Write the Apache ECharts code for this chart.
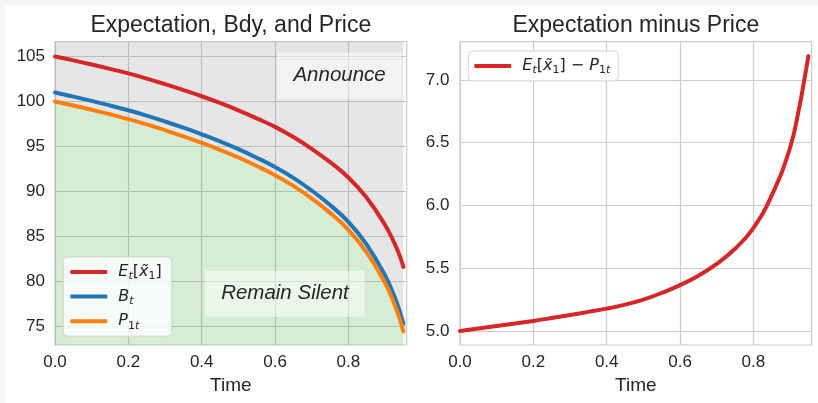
<!DOCTYPE html>
<html>
<head>
<meta charset="utf-8">
<script src="https://cdn.jsdelivr.net/npm/echarts@6/dist/echarts.min.js"></script>
<style>
  html, body { margin: 0; padding: 0; width: 818px; height: 403px; overflow: hidden; background: #f6f6f6; }
  #chart { position: absolute; left: 5px; top: 5px; width: 813px; height: 398px; background: #ffffff; }
</style>
</head>
<body>
<div id="chart"></div>
<script>
// Time grid shared by every curve
const times = [0, 0.05, 0.1, 0.15, 0.2, 0.25, 0.3, 0.35, 0.4, 0.45, 0.5, 0.55, 0.6, 0.65, 0.7, 0.75, 0.8, 0.85, 0.9, 0.925, 0.94, 0.95];
// E_t[x~_1]
const expectation = [105.0, 104.57, 104.11, 103.63, 103.12, 102.55, 101.93, 101.27, 100.58, 99.83, 99.01, 98.12, 97.17, 96.04, 94.73, 93.25, 91.54, 89.28, 86.26, 84.28, 82.82, 81.59];
// B_t, the disclosure boundary
const boundary = [101.0, 100.54, 100.06, 99.55, 99.02, 98.42, 97.77, 97.08, 96.35, 95.56, 94.69, 93.74, 92.71, 91.5, 90.09, 88.48, 86.59, 84.06, 80.65, 78.35, 76.65, 75.25];
// P_1t, the price
const price = [100.0, 99.55, 99.07, 98.57, 98.04, 97.45, 96.8, 96.12, 95.4, 94.62, 93.76, 92.82, 91.8, 90.6, 89.2, 87.6, 85.72, 83.2, 79.8, 77.5, 75.8, 74.4];
// E_t[x~_1] - P_1t
const spread = [5.0, 5.02, 5.04, 5.06, 5.08, 5.103, 5.127, 5.152, 5.178, 5.21, 5.25, 5.303, 5.365, 5.44, 5.535, 5.655, 5.82, 6.08, 6.46, 6.78, 7.02, 7.19];

// Tick labels
const xTicks = [0, 0.2, 0.4, 0.6, 0.8];
const yTicksLeft = [75, 80, 85, 90, 95, 100, 105];
const yTicksRight = [5.0, 5.5, 6.0, 6.5, 7.0];

// Axis ranges
const X_MAX = 0.959;
const LEFT_RANGE = [72.9, 106.65];
const RIGHT_RANGE = [4.888, 7.305];

// Region labels, placed in data coordinates of the left panel
const announceAt = [0.776, 102.86];
const silentAt = [0.627, 78.6];

const FONT = '"Liberation Sans", Arial, sans-serif';
const MATH = '"DejaVu Sans", sans-serif';
const INK = '#262626';
const GRID_C = '#cccccc';
const RED = '#d62728', BLUE = '#1f77b4', ORANGE = '#ff7f0e';

const pts = ys => times.map((t, i) => [t, ys[i]]);

const chart = echarts.init(document.getElementById('chart'), null, { renderer: 'canvas' });

const SMOOTH = 0.45;

const lineSeries = (name, ys, color, idx) => ({
  name, type: 'line', xAxisIndex: idx, yAxisIndex: idx, data: pts(ys),
  symbol: 'none', showSymbol: false, smooth: SMOOTH,
  lineStyle: { color, width: 4, cap: 'round', join: 'round' },
  itemStyle: { color }, z: 5, silent: true
});

const fillSeries = (origin, color) => ({
  name: 'fill-' + origin, type: 'line', xAxisIndex: 0, yAxisIndex: 0, data: pts(price),
  symbol: 'none', showSymbol: false, smooth: SMOOTH,
  lineStyle: { width: 0, opacity: 0 }, areaStyle: { origin, color, opacity: 1 },
  z: 1, silent: true
});

const rich = {
  sp: { width: 6 },
  m: { fontFamily: MATH, fontStyle: 'italic', fontSize: 16, color: INK, lineHeight: 20 },
  r: { fontFamily: MATH, fontSize: 16, color: INK, lineHeight: 20 },
  s: { fontFamily: MATH, fontStyle: 'italic', fontSize: 11, color: INK, lineHeight: 20, verticalAlign: 'bottom' },
  n: { fontFamily: MATH, fontSize: 11, color: INK, lineHeight: 20, verticalAlign: 'bottom' }
};
const labels = {
  exp: '{sp| }{m|E}{s|t}{r|[}{m|x\u0303}{n|1}{r|]}',
  bdy: '{sp| }{m|B}{s|t}',
  price: '{sp| }{m|P}{n|1}{s|t}',
  spread: '{sp| }{m|E}{s|t}{r|[}{m|x\u0303}{n|1}{r|]}{r| \u2212 }{m|P}{n|1}{s|t}'
};

const legendBase = {
  orient: 'vertical', icon: 'roundRect', itemWidth: 37, itemHeight: 4, itemGap: 4.6,
  backgroundColor: 'rgba(255,255,255,0.8)', borderColor: '#d4d4d4', borderWidth: 1, borderRadius: 4,
  selectedMode: false, z: 10,
  formatter: name => labels[name],
  textStyle: { color: INK, fontFamily: MATH, fontSize: 16, lineHeight: 20, rich }
};

const xAxisFor = gridIndex => ({
  type: 'value', gridIndex, min: 0, max: X_MAX,
  axisLine: { show: false },
  axisTick: { show: false, customValues: xTicks },
  axisLabel: { customValues: xTicks, formatter: v => v.toFixed(1), color: INK, fontFamily: FONT, fontSize: 17, margin: 9 },
  splitLine: { show: true, lineStyle: { color: GRID_C, width: 1.2 } },
  name: 'Time', nameLocation: 'middle', nameGap: 28,
  nameTextStyle: { color: INK, fontFamily: FONT, fontSize: 19 }
});

const yAxisFor = (gridIndex, range, ticks, fmt, margin) => ({
  type: 'value', gridIndex, min: range[0], max: range[1],
  axisLine: { show: false },
  axisTick: { show: false, customValues: ticks },
  axisLabel: { customValues: ticks, formatter: fmt, color: INK, fontFamily: FONT, fontSize: 17, margin },
  splitLine: { show: true, lineStyle: { color: GRID_C, width: 1.2 } }
});

const gridBox = left => ({
  left, top: 36.7, width: 351.7, height: 303.3, containLabel: false,
  show: true, borderColor: GRID_C, borderWidth: 1.2, backgroundColor: '#ffffff'
});

chart.setOption({
  animation: false,
  backgroundColor: '#ffffff',
  grid: [gridBox(50), gridBox(455)],
  xAxis: [xAxisFor(0), xAxisFor(1)],
  yAxis: [
    yAxisFor(0, LEFT_RANGE, yTicksLeft, v => String(Math.round(v)), 10),
    yAxisFor(1, RIGHT_RANGE, yTicksRight, v => v.toFixed(1), 10.5)
  ],
  legend: [
    Object.assign({}, legendBase, { data: ['exp', 'bdy', 'price'], left: 58.3, top: 252, padding: [5, 10, 5, 7] }),
    Object.assign({}, legendBase, { data: ['spread'], left: 463.3, top: 46, padding: [5, 8, 5, 6] })
  ],
  series: [
    fillSeries('end', 'rgba(128,128,128,0.2)'),
    fillSeries('start', 'rgba(44,160,44,0.2)'),
    lineSeries('exp', expectation, RED, 0),
    lineSeries('bdy', boundary, BLUE, 0),
    lineSeries('price', price, ORANGE, 0),
    lineSeries('spread', spread, RED, 1)
  ]
});

// Panel titles and region labels, positioned through the axes
const px = (gi, v) => chart.convertToPixel({ gridIndex: gi }, v);
const centerX = gi => (px(gi, [0, 0])[0] + px(gi, [X_MAX, 0])[0]) / 2;
const title = (gi, text) => ({
  type: 'text', x: centerX(gi), y: 20.5, z: 20, silent: true,
  style: { text, font: '23px ' + FONT, fill: INK, align: 'center', verticalAlign: 'middle' }
});
const regionLabel = (at, text) => {
  const p = px(0, at);
  return {
    type: 'text', x: p[0], y: p[1], z: 20, silent: true,
    style: {
      text, font: 'italic 20.5px ' + FONT, fill: INK, align: 'center', verticalAlign: 'middle',
      backgroundColor: 'rgba(255,255,255,0.5)', padding: [13, 16]
    }
  };
};
chart.setOption({
  graphic: [
    title(0, 'Expectation, Bdy, and Price'),
    title(1, 'Expectation minus Price'),
    regionLabel(announceAt, 'Announce'),
    regionLabel(silentAt, 'Remain Silent')
  ]
});
</script>
</body>
</html>
